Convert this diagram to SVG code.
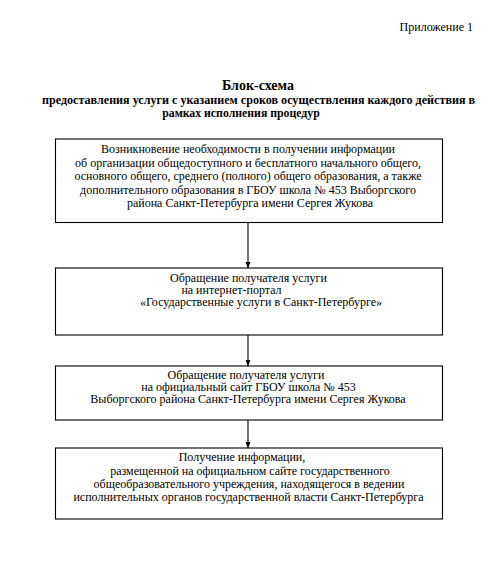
<svg xmlns="http://www.w3.org/2000/svg" width="504" height="570" viewBox="0 0 504 570">
<style>
text{font-family:"Liberation Serif","Times New Roman",serif;fill:#000}
.t{font-size:12px;text-anchor:middle}
.b{fill:#fff;stroke:#000;stroke-width:1.1}
.c{stroke:#000;stroke-width:1.1;fill:none}
</style>
<defs>
<marker id="ah" markerWidth="8" markerHeight="8" refX="6" refY="3" orient="auto" markerUnits="userSpaceOnUse">
<path d="M0,0.5 L6,3 L0,5.5 Z" fill="#000"/>
</marker>
</defs>
<rect width="504" height="570" fill="#fff"/>
<text x="473" y="31" font-size="12" text-anchor="end">Приложение 1</text>
<text x="258" y="90" font-size="14" font-weight="bold" text-anchor="middle">Блок-схема</text>
<text x="258.5" y="104" font-size="11.8" font-weight="bold" text-anchor="middle" textLength="433" lengthAdjust="spacingAndGlyphs">предоставления услуги с указанием сроков осуществления каждого действия в</text>
<text x="241" y="117" font-size="11.8" font-weight="bold" text-anchor="middle">рамках исполнения процедур</text>
<g id="connectors">
<line class="c" x1="248" y1="222.5" x2="248" y2="268" marker-end="url(#ah)"/>
<line class="c" x1="248" y1="335" x2="248" y2="366" marker-end="url(#ah)"/>
<line class="c" x1="248" y1="420" x2="248" y2="448" marker-end="url(#ah)"/>
</g>
<g id="node1">
<rect class="b" x="55.5" y="139" width="387" height="83.5"/>
<text class="t" x="248" y="153">Возникновение необходимости в получении информации</text>
<text class="t" x="248" y="166.5">об организации общедоступного и бесплатного начального общего,</text>
<text class="t" x="248" y="180">основного общего, среднего (полного) общего образования, а также</text>
<text class="t" x="248" y="193.5">дополнительного образования в ГБОУ школа № 453 Выборгского</text>
<text class="t" x="250" y="207">района Санкт-Петербурга имени Сергея Жукова</text>
</g>
<g id="node2">
<rect class="b" x="55.5" y="268" width="387" height="67"/>
<text class="t" x="248.5" y="281.5">Обращение получателя услуги</text>
<text class="t" x="231.5" y="293.5">на интернет-портал</text>
<text class="t" x="261" y="305.5">«Государственные услуги в Санкт-Петербурге»</text>
</g>
<g id="node3">
<rect class="b" x="55.5" y="366" width="387" height="54"/>
<text class="t" x="246" y="378.5">Обращение получателя услуги</text>
<text class="t" x="248.5" y="390.5">на официальный сайт ГБОУ школа № 453</text>
<text class="t" x="248" y="402.5">Выборгского района Санкт-Петербурга имени Сергея Жукова</text>
</g>
<g id="node4">
<rect class="b" x="55.5" y="448" width="387" height="71"/>
<text class="t" x="242" y="461">Получение информации,</text>
<text class="t" x="250" y="474.5">размещенной на официальном сайте государственного</text>
<text class="t" x="249" y="488">общеобразовательного учреждения, находящегося в ведении</text>
<text class="t" x="248.5" y="501">исполнительных органов государственной власти Санкт-Петербурга</text>
</g>
</svg>
